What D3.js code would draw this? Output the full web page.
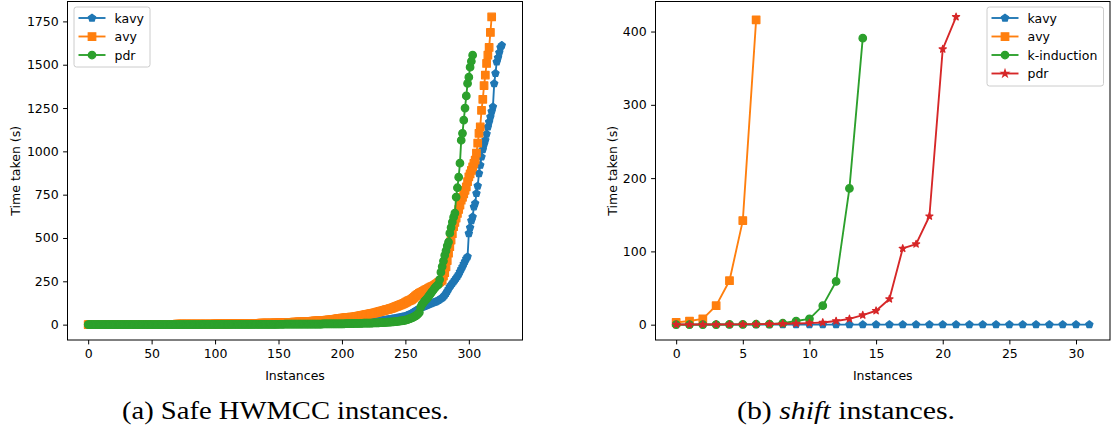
<!DOCTYPE html>
<html>
<head>
<meta charset="utf-8">
<script src="https://cdn.jsdelivr.net/npm/d3@7"></script>
<style>
html,body{margin:0;padding:0;background:#fff;}
svg{display:block;}
text{font-family:"DejaVu Sans",sans-serif;fill:#000;}
text.cap{font-family:"Liberation Serif",serif;}
</style>
</head>
<body>
<svg id="chart" width="1111" height="431"></svg>
<script>
// ---------- Data: (a) Safe HWMCC instances (sorted times, seconds) ----------
const hwKavy = [
0.1,0.1,0.1,0.1,0.1,0.1,0.1,0.1,0.1,0.1,0.1,0.1,0.2,0.2,0.2,0.2,0.2,0.2,0.2,0.2,
0.3,0.3,0.3,0.3,0.3,0.3,0.3,0.3,0.3,0.3,0.4,0.4,0.4,0.4,0.4,0.4,0.4,0.4,0.4,0.4,
0.5,0.5,0.5,0.5,0.5,0.5,0.5,0.5,0.5,0.5,
0.6,0.6,0.6,0.6,0.6,0.6,0.6,0.6,0.7,0.7,0.7,0.7,0.7,0.7,0.7,0.7,0.8,0.8,0.8,0.8,
0.8,0.8,0.8,0.8,0.9,0.9,0.9,0.9,0.9,0.9,0.9,0.9,1.0,1.0,1.0,1.0,1.0,1.0,1.1,1.1,
1.1,1.1,1.1,1.1,1.2,1.2,1.2,1.2,1.2,1.2,
1.3,1.3,1.3,1.3,1.3,1.4,1.4,1.4,1.4,1.4,1.5,1.5,1.5,1.5,1.5,1.6,1.6,1.6,1.6,1.6,
1.8,1.8,1.8,1.8,1.8,2.0,2.0,2.0,2.0,2.0,2.2,2.2,2.2,2.2,2.2,2.4,2.4,2.4,2.4,2.4,
2.7,2.7,2.7,2.7,2.7,3.0,3.0,3.0,3.0,3.0,
3.3,3.3,3.3,3.3,3.3,3.6,3.6,3.6,3.6,3.6,4.0,4.0,4.0,4.0,4.0,4.4,4.4,4.4,4.4,4.4,
4.8,4.8,4.8,4.8,4.8,5.3,5.3,5.3,5.3,5.3,5.8,5.8,5.8,5.8,5.8,6.4,6.4,6.4,6.4,6.4,
7.0,7.0,7.0,7.0,7.0,7.7,7.7,7.7,7.7,7.7,
8.4,8.7,9,9.3,9.6,10,10.3,10.7,11,11.4,11.8,12.2,12.6,13,13.5,14,14.5,15,15.5,16,
16.6,17.2,17.8,18.4,19,19.7,20.4,21.1,21.9,22.7,
23.5,24.4,25.3,26.2,27.2,28.2,29.3,30.4,31.5,32.7,33.9,35.2,36.5,37.9,39.3,40.8,42.3,43.9,45.5,47,
49,52,55,58,62,66,70,75,80,84,
88,92,96,100,103,106,109,112,115,118,121,124,127,130,132,
136,140,145,150,155,161,170,180,192,205,219,
228,238,248,258,268,278,290,305,320,334,350,365,380,392,
526,560,600,622,680,700,757,800,872,920,968,1010,1040,1064,1100,1141,1170,1199,1230,1257,
1391,1450,1516,1540,1570,1600,1612
];
const hwAvy = [
0.5,0.5,0.5,0.5,0.5,0.5,0.5,0.5,0.5,0.5,0.6,0.6,0.6,0.6,0.6,0.6,0.6,0.6,0.7,0.7,
0.7,0.7,0.7,0.7,0.7,0.7,0.8,0.8,0.8,0.8,0.8,0.8,0.8,0.8,1.0,1.0,1.0,1.0,1.0,1.0,
1.0,1.0,1.2,1.2,1.2,1.2,1.2,1.2,1.2,1.2,
1.4,1.4,1.4,1.4,1.4,1.6,1.6,1.6,1.6,1.6,1.8,1.8,1.8,1.8,1.8,2.0,2.0,2.0,2.0,2.0,
2.2,2.2,2.2,2.2,2.2,2.4,2.4,2.4,2.4,2.4,2.7,2.7,2.7,2.7,2.7,3.0,3.0,3.0,3.0,3.0,
3.3,3.3,3.3,3.3,3.3,3.6,3.6,3.6,3.6,3.6,
3.9,4.0,4.1,4.2,4.3,4.4,4.5,4.6,4.7,4.8,4.9,5.0,5.1,5.2,5.3,5.4,5.5,5.6,5.7,5.8,
5.9,6.0,6.1,6.2,6.4,6.5,6.6,6.8,6.9,7.0,7.2,7.3,7.4,7.6,7.7,7.8,8.0,8.1,8.3,8.4,
8.5,8.7,8.8,9.0,9.1,9.3,9.4,9.6,9.8,10,
10.2,10.5,10.8,11,11.3,11.6,11.9,12.2,12.5,12.8,13.1,13.4,13.8,14.1,14.5,14.8,15.2,15.6,16,16.4,
16.8,17.2,17.6,18,18.5,19,19.5,20,20.5,21,21.5,22,22.5,23,23.5,24,24.5,25,25.5,26,
27,28,29,30,31,32,33,34,35,36,37,38,39,40,40.5,41,42,43,43.5,44,45,
46,47.5,49,50.5,52,53.5,55,56.5,58,59.5,61,62.5,64,65.5,67,68.5,70,72,74,
76,78,80,82,84,86,88,90,92,94,97,100,103,
105,108,111,114,117,120,123,127,131,135,139,142,
146,152,158,164,170,175,180,
184,188,192,196,200,204,208,212,216,219,
222,227,232,237,242,247,252,257,
280,300,334,370,412,450,488,525,565,
590,615,642,665,690,718,735,755,775,795,825,853,
870,890,910,930,949,990,1047,1104,1141,1237,1300,1380,1440,1507,1555,1600,1686,1776
];
const hwPdr = [
0.1,0.1,0.1,0.1,0.1,0.1,0.1,0.1,0.1,0.1,0.1,0.1,0.1,0.1,0.1,0.1,0.1,0.1,0.1,0.1,
0.2,0.2,0.2,0.2,0.2,0.2,0.2,0.2,0.2,0.2,0.2,0.2,0.2,0.2,0.2,0.3,0.3,0.3,0.3,0.3,
0.3,0.3,0.3,0.3,0.3,0.3,0.3,0.3,0.3,0.3,
0.4,0.4,0.4,0.4,0.4,0.4,0.4,0.4,0.4,0.4,0.5,0.5,0.5,0.5,0.5,0.5,0.5,0.5,0.5,0.5,
0.6,0.6,0.6,0.6,0.6,0.6,0.6,0.6,0.6,0.6,0.7,0.7,0.7,0.7,0.7,0.7,0.7,0.7,0.7,0.7,
0.8,0.8,0.8,0.8,0.8,0.8,0.8,0.8,0.8,0.8,
0.9,0.9,0.9,0.9,0.9,1.0,1.0,1.0,1.0,1.0,1.1,1.1,1.1,1.1,1.1,1.2,1.2,1.2,1.2,1.2,
1.3,1.3,1.3,1.3,1.3,1.4,1.4,1.4,1.4,1.4,1.5,1.5,1.5,1.5,1.5,1.6,1.6,1.6,1.6,1.6,
1.8,1.8,1.8,1.8,1.8,2.0,2.0,2.0,2.0,2.0,
2.1,2.1,2.1,2.1,2.1,2.3,2.3,2.3,2.3,2.3,2.5,2.5,2.5,2.5,2.5,2.7,2.7,2.7,2.7,2.7,
2.9,2.9,2.9,2.9,2.9,3.1,3.1,3.1,3.1,3.1,3.4,3.4,3.4,3.4,3.4,3.7,3.7,3.7,3.7,3.7,
4.0,4.0,4.0,4.0,4.0,4.4,4.4,4.4,4.4,4.4,
4.6,4.8,5,5.2,5.4,5.6,5.8,6,6.2,6.4,6.6,6.8,7,7.2,7.4,7.6,7.8,8,8.2,8.4,
8.6,8.8,9,9.2,9.4,9.6,9.8,10,10.3,10.6,
11,11.5,12,12.5,13,13.5,14,14.5,15,15.5,16,16.5,17,18,19,20,21,22,23,24,
26,28,30,33,36,39,42,46,50,55,62,70,
100,115,125,135,142,150,160,170,180,190,200,210,218,226,
231,260,303,335,367,400,426,455,477,528,560,592,620,643,
736,790,851,932,1064,1104,1180,1250,1320,1392,1428,1486,1520,1555
];

// ---------- Data: (b) shift instances ----------
const shKavy = [0.1,0.1,0.1,0.1,0.1,0.1,0.1,0.1,0.1,0.1,0.1,0.1,0.1,0.1,0.1,0.1,
                0.1,0.1,0.1,0.1,0.1,0.1,0.1,0.1,0.1,0.1,0.1,0.1,0.1,0.1,0.1,0.1];
const shAvy = [3,5,8,26,60,142,416];
const shKind = [0.1,0.1,0.2,0.2,0.3,0.4,0.6,0.8,2,5,8,26,59,186,391];
const shPdr = [0.2,0.2,0.3,0.3,0.4,0.5,0.7,0.9,1.2,1.6,2.2,3,5,8,13,19,35,104,110,148,376,420];

// ---------- Ticks, labels ----------
const hwXTicks = [0,50,100,150,200,250,300];
const hwYTicks = [0,250,500,750,1000,1250,1500,1750];
const shXTicks = [0,5,10,15,20,25,30];
const shYTicks = [0,100,200,300,400];
const xLabel = "Instances";
const yLabel = "Time taken (s)";

const C = {blue:"#1f77b4", orange:"#ff7f0e", green:"#2ca02c", red:"#d62728"};

// ---------- marker paths (matplotlib-like, markersize 7.5px) ----------
const MS = 7.5;
function polygonPath(n, r){
  let p = "";
  for(let i=0;i<n;i++){
    const a = -Math.PI/2 + i*2*Math.PI/n;
    p += (i?"L":"M") + (r*Math.cos(a)).toFixed(2) + "," + (r*Math.sin(a)).toFixed(2);
  }
  return p+"Z";
}
function starPath(r, ri){
  let p = "";
  for(let i=0;i<10;i++){
    const a = -Math.PI/2 + i*Math.PI/5;
    const rr = i%2 ? ri : r;
    p += (i?"L":"M") + (rr*Math.cos(a)).toFixed(2) + "," + (rr*Math.sin(a)).toFixed(2);
  }
  return p+"Z";
}
const markerPaths = {
  pentagon: polygonPath(5, MS*0.5),
  square: `M${-MS/2},${-MS/2}h${MS}v${MS}h${-MS}Z`,
  circle: `M${MS/2},0A${MS/2},${MS/2} 0 1,1 ${-MS/2},0A${MS/2},${MS/2} 0 1,1 ${MS/2},0Z`,
  star: starPath(MS*0.5, MS*0.5*0.381966)
};

const svg = d3.select("#chart");

function padExtent(vals){
  const [a,b] = d3.extent(vals);
  const p = (b-a)*0.05;
  return [a-p, b+p];
}

function drawPanel(box, series, xTicks, yTicks, legendBox){
  const allX = [], allY = [];
  series.forEach(s => s.values.forEach((v,i)=>{allX.push(i); allY.push(v);}));
  const x = d3.scaleLinear().domain(padExtent(allX)).range([box.left, box.right]);
  const y = d3.scaleLinear().domain(padExtent(allY)).range([box.bottom, box.top]);
  const g = svg.append("g");
  const clipId = "clip" + Math.round(box.left);
  svg.append("clipPath").attr("id", clipId).append("rect")
    .attr("x", box.left).attr("y", box.top)
    .attr("width", box.right-box.left).attr("height", box.bottom-box.top);
  const plot = g.append("g").attr("clip-path", `url(#${clipId})`);
  const line = d3.line().x((d,i)=>x(i)).y(d=>y(d));
  series.forEach(s=>{
    const sg = plot.append("g");
    sg.append("path").attr("d", line(s.values)).attr("fill","none")
      .attr("stroke", s.color).attr("stroke-width",1.875).attr("stroke-linejoin","round").attr("stroke-linecap","square");
    sg.selectAll("path.m").data(s.values).join("path").attr("class","m")
      .attr("d", markerPaths[s.marker])
      .attr("transform",(d,i)=>`translate(${x(i)},${y(d)})`)
      .attr("fill", s.color).attr("stroke", s.color).attr("stroke-width",1.25).attr("stroke-linejoin","round");
  });
  // axes
  const xAxis = d3.axisBottom(x).tickValues(xTicks).tickSize(4.4).tickPadding(4.4).tickFormat(d3.format("d"));
  const yAxis = d3.axisLeft(y).tickValues(yTicks).tickSize(4.4).tickPadding(4.4).tickFormat(d3.format("d"));
  const gx = g.append("g").attr("transform",`translate(0,${box.bottom})`).call(xAxis);
  const gy = g.append("g").attr("transform",`translate(${box.left},0)`).call(yAxis);
  [gx,gy].forEach(a=>{
    a.select(".domain").remove();
    a.selectAll(".tick line").attr("stroke","#000").attr("stroke-width",1);
    a.selectAll(".tick text").attr("font-size","12.5px").attr("font-family","DejaVu Sans").attr("fill","#000");
  });
  // frame
  g.append("rect").attr("x",box.left).attr("y",box.top)
    .attr("width",box.right-box.left).attr("height",box.bottom-box.top)
    .attr("fill","none").attr("stroke","#000").attr("stroke-width",1);
  // labels
  g.append("text").attr("x",(box.left+box.right)/2).attr("y",box.bottom+40)
    .attr("text-anchor","middle").attr("font-size","12.5px").text(xLabel);
  g.append("text").attr("transform",`translate(${box.ylabelX},${(box.top+box.bottom)/2}) rotate(-90)`)
    .attr("text-anchor","middle").attr("dominant-baseline","central").attr("font-size","12.5px").text(yLabel);
  // legend
  const lg = g.append("g");
  lg.append("rect").attr("x",legendBox.x).attr("y",legendBox.y)
    .attr("width",legendBox.w).attr("height",legendBox.h).attr("rx",2.5)
    .attr("fill","#fff").attr("fill-opacity",0.8).attr("stroke","#cccccc").attr("stroke-width",1);
  series.forEach((s,i)=>{
    const yy = legendBox.y + 11 + i*18.5;
    const x0 = legendBox.x + 4.5, x1 = x0 + 27;
    lg.append("line").attr("x1",x0).attr("x2",x1).attr("y1",yy).attr("y2",yy)
      .attr("stroke",s.color).attr("stroke-width",1.875);
    lg.append("path").attr("d",markerPaths[s.marker]).attr("transform",`translate(${(x0+x1)/2},${yy})`)
      .attr("fill",s.color).attr("stroke",s.color).attr("stroke-width",1.25);
    lg.append("text").attr("x",x1+9).attr("y",yy).attr("dominant-baseline","central")
      .attr("font-size","12.5px").text(s.name);
  });
}

drawPanel({left:67.5,right:522.5,top:1.5,bottom:340,ylabelX:15},
  [{name:"kavy",values:hwKavy,color:C.blue,marker:"pentagon"},
   {name:"avy",values:hwAvy,color:C.orange,marker:"square"},
   {name:"pdr",values:hwPdr,color:C.green,marker:"circle"}],
  hwXTicks, hwYTicks, {x:74,y:7,w:76,h:60});

drawPanel({left:655.5,right:1110,top:1.5,bottom:340,ylabelX:612},
  [{name:"kavy",values:shKavy,color:C.blue,marker:"pentagon"},
   {name:"avy",values:shAvy,color:C.orange,marker:"square"},
   {name:"k-induction",values:shKind,color:C.green,marker:"circle"},
   {name:"pdr",values:shPdr,color:C.red,marker:"star"}],
  shXTicks, shYTicks, {x:987,y:7,w:116.5,h:79});

// captions
svg.append("text").attr("class","cap").attr("x",122).attr("y",419)
  .attr("font-size","25px").attr("textLength",327).attr("lengthAdjust","spacingAndGlyphs")
  .text("(a) Safe HWMCC instances.");
const cb = svg.append("text").attr("class","cap").attr("x",737).attr("y",419)
  .attr("font-size","25px").attr("textLength",218).attr("lengthAdjust","spacingAndGlyphs");
cb.append("tspan").text("(b) ");
cb.append("tspan").attr("font-style","italic").text("shift");
cb.append("tspan").text(" instances.");
</script>
</body>
</html>
